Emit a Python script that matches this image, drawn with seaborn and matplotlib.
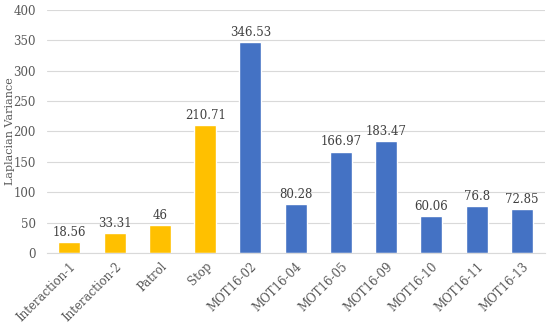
import pandas as pd
import matplotlib.pyplot as plt
import seaborn as sns

# data
categories = ["Interaction-1", "Interaction-2", "Patrol", "Stop",
              "MOT16-02", "MOT16-04", "MOT16-05", "MOT16-09",
              "MOT16-10", "MOT16-11", "MOT16-13"]
variance = [18.56, 33.31, 46, 210.71, 346.53, 80.28, 166.97, 183.47,
            60.06, 76.8, 72.85]
labels = ["18.56", "33.31", "46", "210.71", "346.53", "80.28", "166.97",
          "183.47", "60.06", "76.8", "72.85"]
group = ["own"] * 4 + ["mot"] * 7

df = pd.DataFrame({"name": categories, "var": variance, "group": group})

sns.set_style("white")
plt.rcParams["font.family"] = ["DejaVu Serif"]
text_col = "#595959"

fig = plt.figure(figsize=(5.5, 3.23), dpi=100)
ax = fig.add_axes([0.085, 0.217, 0.905, 0.752])

sns.barplot(data=df, x="name", y="var", hue="group",
            palette={"own": "#FFC000", "mot": "#4472C4"}, saturation=1,
            dodge=False, width=0.49, legend=False, ax=ax)

for i, (v, t) in enumerate(zip(variance, labels)):
    ax.text(i, v + 5, t, ha="center", va="bottom", fontsize=8.5, color="#404040")

ax.set_ylim(0, 400)
ax.set_yticks(range(0, 401, 50))
ax.yaxis.grid(True, color="#D9D9D9", linewidth=0.8)
ax.set_axisbelow(True)
for s in ["top", "right", "left"]:
    ax.spines[s].set_visible(False)
ax.spines["bottom"].set_color("#D9D9D9")
ax.set_xlim(-0.5, len(categories) - 0.5)

ax.set_xlabel("")
ax.set_ylabel("Laplacian Variance", fontsize=8, color=text_col)
ax.yaxis.set_label_coords(-0.064, 0.5)
ax.tick_params(axis="y", length=0, labelsize=8.5, colors=text_col, pad=8)
ax.tick_params(axis="x", length=0, labelsize=8.5, colors=text_col, pad=5)
ax.set_xticks(range(len(categories)))
ax.set_xticklabels(categories, rotation=45, ha="right", rotation_mode="anchor")

fig.savefig("out.png", dpi=100)
